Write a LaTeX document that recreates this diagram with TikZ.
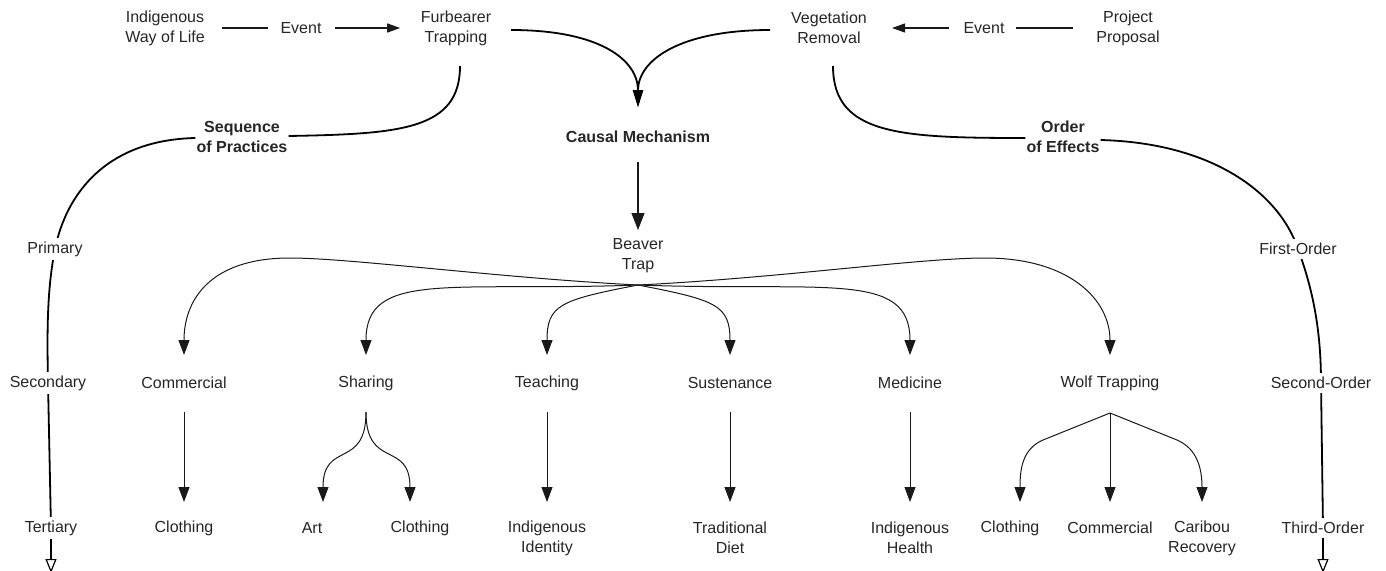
\documentclass[tikz,border=0pt]{standalone}
\usepackage{fontspec}
\setmainfont{Liberation Sans}
\usetikzlibrary{arrows.meta,calc,backgrounds}
\begin{document}
\begin{tikzpicture}[x=1pt,y=-1pt,
  lbl/.style={font=\fontsize{16}{20}\selectfont, align=center, inner sep=0pt, text=black!85},
  blbl/.style={lbl, font=\fontsize{16}{20}\selectfont\bfseries},
  wlbl/.style={lbl, fill=white, inner ysep=4pt, inner xsep=2pt},
  conn/.style={line width=1pt, draw=black!90},
  heavy/.style={line width=1.8pt, draw=black},
  arr/.style={conn, -{Triangle[width=11pt,length=15pt]}},
  harr/.style={heavy, -{Triangle[width=10pt,length=17pt]}},
  oarr/.style={heavy, -{Triangle[open,width=11pt,length=14pt,line width=1.2pt]}},
  earr/.style={conn, line width=1.3pt, -{Triangle[width=9pt,length=13pt]}}
]
\useasboundingbox (0,0) rectangle (1386,570);

% top row
\node[lbl] (ind) at (165,28) {Indigenous\\Way of Life};
\node[lbl] (ev1) at (301,28) {Event};
\node[lbl] (fur) at (456,28) {Furbearer\\Trapping};
\node[lbl] (veg) at (829,28) {Vegetation\\Removal};
\node[lbl] (ev2) at (984,28) {Event};
\node[lbl] (proj) at (1128,28) {Project\\Proposal};

% second row
\node[blbl] (seq) at (242,137) {Sequence\\of Practices};
\node[blbl] (cm) at (638,137) {Causal Mechanism};
\node[blbl] (oe) at (1063,137) {Order\\of Effects};

\node[lbl] (bt) at (638,256) {Beaver\\Trap};
\coordinate (btc) at (638,285);

% left scale
\node[wlbl] (prim) at (55,249) {Primary};
\node[wlbl] (sec) at (48,383) {Secondary};
\node[wlbl] (ter) at (51,528) {Tertiary};
\coordinate (lend) at (51,573);

% right scale
\node[wlbl] (fo) at (1298,249) {First-Order};
\node[wlbl] (so) at (1321,383) {Second-Order};
\node[wlbl] (to) at (1323,528) {Third-Order};
\coordinate (rend) at (1323,573);

% middle row
\node[lbl] (com) at (184,383) {Commercial};
\node[lbl] (sha) at (366,383) {Sharing};
\node[lbl] (tea) at (547,383) {Teaching};
\node[lbl] (sus) at (730,383) {Sustenance};
\node[lbl] (med) at (910,383) {Medicine};
\node[lbl] (wolf) at (1110,383) {Wolf Trapping};

% bottom row
\node[lbl] (clo1) at (184,528) {Clothing};
\node[lbl] (art) at (312,528) {Art};
\node[lbl] (clo2) at (420,528) {Clothing};
\node[lbl] (iid) at (547,538) {Indigenous\\Identity};
\node[lbl] (tdi) at (730,538) {Traditional\\Diet};
\node[lbl] (ihe) at (910,538) {Indigenous\\Health};
\node[lbl] (clo3) at (1010,528) {Clothing};
\node[lbl] (com2) at (1110,528) {Commercial};
\node[lbl] (car) at (1202,538) {Caribou\\Recovery};

\begin{scope}[on background layer]
\fill[white] (0,0) rectangle (1386,570);

% events
\draw[conn, line width=1.3pt, shorten <=17pt, shorten >=12.5pt] (ind) -- (ev1);
\draw[earr, shorten <=13.5pt, shorten >=20.5pt] (ev1) -- (fur);
\draw[conn, line width=1.3pt, shorten <=23.5pt, shorten >=11.5pt] (proj) -- (ev2);
\draw[earr, shorten <=14.5pt, shorten >=25pt] (ev2) -- (veg);

% to causal mechanism
\draw[harr] ($(fur)+(55,2)$) .. controls (600,30) and (638,60) .. ($(cm)+(0,-30)$);
\draw[harr] ($(veg)+(-59,2)$) .. controls (680,30) and (638,60) .. ($(cm)+(0,-30)$);
\draw[conn, line width=1.2pt, -{Triangle[width=13pt,length=17pt]}] ($(cm)+(0,25)$) -- ($(bt)+(0,-26)$);

% to sequence / order
\draw[heavy] ($(fur)+(4,38)$) .. controls (460,130) and (400,134) .. ($(seq.east)+(1,-1)$);
\draw[heavy] ($(veg)+(4,38)$) .. controls (833,135) and (900,138) .. ($(oe.west)+(-1,1)$);

% left scale line
\draw[oarr] ($(seq.west)+(-1,1)$) .. controls (105,140) and (66,195) .. (prim.center)
   .. controls (47,290) and (47,330) .. (sec.center) -- (ter.center) -- (lend);
% right scale line
\draw[oarr] ($(oe.east)+(1,3)$) .. controls (1215,143) and (1280,195) .. (fo.center)
   .. controls (1313,290) and (1321,330) .. (so.center) -- (to.center) -- (rend);

% fan from beaver trap
\draw[arr] (btc) .. controls (500,278) and (350,258) .. (290,258)
   .. controls (210,258) and (184,300) .. ($(com)+(0,-28)$);
\draw[arr] (btc) .. controls (450,292) and (366,270) .. ($(sha)+(0,-28)$);
\draw[arr] (btc) .. controls (560,300) and (547,305) .. ($(tea)+(0,-28)$);
\draw[arr] (btc) .. controls (716,300) and (730,305) .. ($(sus)+(0,-28)$);
\draw[arr] (btc) .. controls (826,292) and (910,270) .. ($(med)+(0,-28)$);
\draw[arr] (btc) .. controls (780,278) and (920,258) .. (985,258)
   .. controls (1070,258) and (1110,300) .. ($(wolf)+(0,-28)$);

% middle to bottom
\draw[arr] ($(com)+(0,29)$) -- ($(clo1)+(0,-26)$);
\draw[arr] ($(tea)+(0,29)$) -- ($(iid)+(0,-36)$);
\draw[arr] ($(sus)+(0,29)$) -- ($(tdi)+(0,-36)$);
\draw[arr] ($(med)+(0,29)$) -- ($(ihe)+(0,-36)$);
\draw[arr] ($(sha)+(0,29)$) .. controls (366,470) and (323,440) .. ($(art)+(11,-26)$);
\draw[arr] ($(sha)+(0,29)$) .. controls (366,470) and (410,440) .. ($(clo2)+(-10,-26)$);
\draw[arr] ($(wolf)+(0,30)$) -- (1043,440) .. controls (1022,449) and (1020,470) .. ($(clo3)+(10,-26)$);
\draw[arr] ($(wolf)+(0,30)$) -- ($(com2)+(0,-26)$);
\draw[arr] ($(wolf)+(0,30)$) -- (1177,440) .. controls (1198,449) and (1202,470) .. ($(car)+(0,-36)$);
\end{scope}
\end{tikzpicture}
\end{document}
